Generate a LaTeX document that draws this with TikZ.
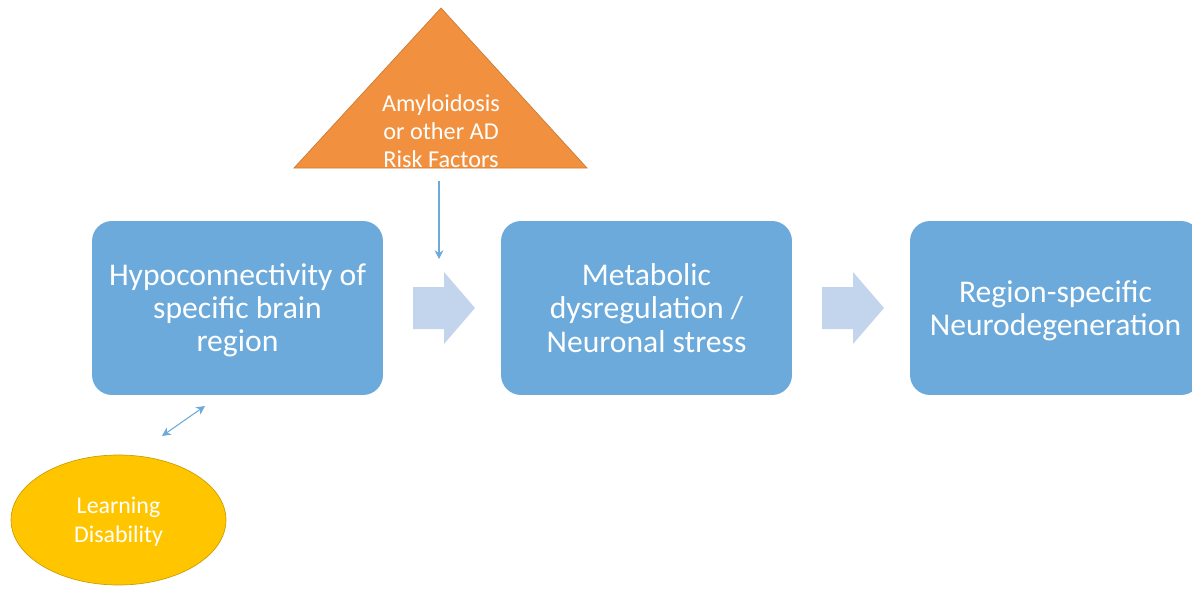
\documentclass[tikz,border=0pt]{standalone}
\usepackage{fontspec}
\setmainfont{Carlito}
\usepackage{tikz}
\usetikzlibrary{shapes.geometric,arrows.meta}

\definecolor{boxblue}{HTML}{6BAADB}
\definecolor{flowblue}{HTML}{C3D5EC}
\definecolor{riskorange}{HTML}{F1913F}
\definecolor{ldyellow}{HTML}{FFC600}

\begin{document}
\begin{tikzpicture}[x=0.02cm,y=-0.02cm,
    stage/.style={rectangle, rounded corners=0.4cm, fill=boxblue, draw=none,
        minimum width=5.82cm, minimum height=3.48cm, align=center, text depth=0pt,
        text=white, font=\fontsize{18}{18.8}\selectfont},
    flow/.style={fill=flowblue, draw=none},
    thin/.style={draw=boxblue, line width=0.6pt}]

    \useasboundingbox (0,0) rectangle (1192,588);

    % stages
    \node[stage] (hypo) at (237.5,308) {Hypoconnectivity of\\specific brain\\region};
    \node[stage] (meta) at (646.5,308) {Metabolic\\dysregulation /\\Neuronal stress};
    \node[stage] (neuro) at (1055.5,308) {Region-specific\\Neurodegeneration};

    % block arrows
    \fill[flow] (413,287) -- (444,287) -- (444,272) -- (475,308) -- (444,344)
        -- (444,329) -- (413,329) -- cycle;
    \fill[flow] (822,287) -- (853,287) -- (853,272) -- (884,308) -- (853,344)
        -- (853,329) -- (822,329) -- cycle;

    % risk factors
    \draw[fill=riskorange, draw=riskorange!85!black, line width=0.4pt]
        (441,8) -- (587,168) -- (294,168) -- cycle;
    \node[text=white, align=center, font=\fontsize{13.8}{15.8}\selectfont] (risk) at (441,131)
        {Amyloidosis\\or other AD\\Risk Factors};
    \coordinate (riskout) at (439,181);
    \coordinate (riskin) at (439,259);
    \draw[thin, -{Stealth[length=5pt,width=5pt]}] (riskout) -- (riskin);

    % learning disability
    \node[ellipse, fill=ldyellow, draw=ldyellow!80!black, line width=0.4pt,
        minimum width=4.3cm, minimum height=2.6cm, inner sep=0pt, text depth=0pt,
        text=white, align=center, font=\fontsize{13.6}{16.2}\selectfont] (ld) at (118.5,520)
        {Learning\\Disability};
    \coordinate (ldtop) at (162,436);
    \coordinate (hypobot) at (205,406);
    \draw[thin, {Stealth[length=5pt,width=5pt]}-{Stealth[length=5pt,width=5pt]}] (ldtop) -- (hypobot);

\end{tikzpicture}
\end{document}
